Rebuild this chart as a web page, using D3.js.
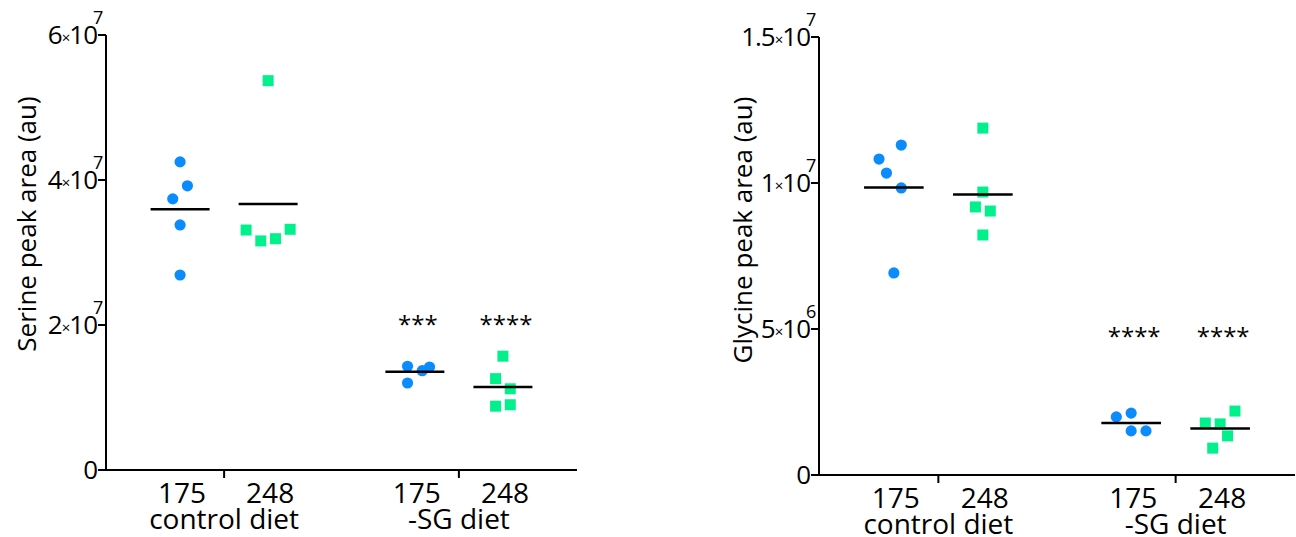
<!DOCTYPE html>
<html>
<head>
<meta charset="utf-8">
<script src="https://cdn.jsdelivr.net/npm/d3@7"></script>
<style>
  body { margin: 0; background: #fff; }
  svg { font-family: "Open Sans", sans-serif; }
</style>
</head>
<body>
<svg id="chart" width="1296" height="537"></svg>
<script>
// groups and strains on the x axis
var groups = ['control diet', '-SG diet'];
var strains = ['175', '248'];

// serine peak area, units of 1e6 (au)
var serineCtrl175 = [42.5, 39.2, 37.4, 33.8, 26.9];
var serineCtrl248 = [53.7, 33.2, 33.1, 31.9, 31.6];
var serineSG175 = [14.3, 14.2, 13.7, 12.0];
var serineSG248 = [15.7, 12.6, 11.2, 9.0, 8.8];
// side-by-side slot of each point (column scatter spread)
var serineSpread = [[0, 1, -1, 0, 0], [0, 3, -3, 1, -1], [-1, 2, 1, -1], [0, -1, 1, 1, -1]];
var serineStars = ['', '', '***', '****'];
var serineTicks = [0, 20, 40, 60];

// glycine peak area, units of 1e6 (au)
var glycineCtrl175 = [11.30, 10.82, 10.34, 9.83, 6.92];
var glycineCtrl248 = [11.88, 9.69, 9.18, 9.04, 8.22];
var glycineSG175 = [2.12, 1.99, 1.51, 1.51];
var glycineSG248 = [2.19, 1.78, 1.75, 1.34, 0.92];
var glycineSpread = [[1, -2, -1, 1, 0], [0, 0, -1, 1, 0], [0, -2, 0, 2], [2, -2, 0, 1, -1]];
var glycineStars = ['', '', '****', '****'];
var glycineTicks = [0, 5, 10, 15];

var blue = '#0a8cff', green = '#00f08c';

var svg = d3.select('#chart');

function sciLabel(g, v) {
  // v in units of 1e6 -> "m×10^e"
  if (v == 0) { g.append('tspan').text('0'); return null; }
  var full = v * 1e6,
      e = Math.floor(Math.log10(full) + 1e-9),
      m = +(full / Math.pow(10, e)).toFixed(2);
  g.append('tspan').text(m);
  g.append('tspan').attr('font-size', 15).attr('dy', -1).text('×');
  g.append('tspan').attr('dy', 1).text('10');
  return e;
}

function drawPanel(opt) {
  var p = svg.append('g');

  var y = d3.scaleLinear()
    .domain([0, opt.yMax])
    .range([opt.bottom, opt.top]);

  var x0 = d3.scaleBand()
    .domain(groups)
    .range([opt.left, opt.right])
    .paddingInner(0.25)
    .paddingOuter(0.128);

  var x1 = d3.scaleBand()
    .domain(strains)
    .range([0, x0.bandwidth()]);

  var slot = x1.bandwidth() / 12;

  var series = [
    { group: groups[0], strain: strains[0], values: opt.data[0] },
    { group: groups[0], strain: strains[1], values: opt.data[1] },
    { group: groups[1], strain: strains[0], values: opt.data[2] },
    { group: groups[1], strain: strains[1], values: opt.data[3] }
  ];
  series.forEach(function(s, i) {
    s.cx = x0(s.group) + x1(s.strain) + x1.bandwidth() / 2;
    s.spread = opt.spread[i];
    s.stars = opt.stars[i];
  });

  // y axis
  p.append('path')
    .attr('d', 'M' + opt.left + ',' + y(opt.yMax) + ' L' + opt.left + ',' + y(0))
    .attr('stroke', '#000').attr('stroke-width', 2).attr('fill', 'none');

  opt.ticks.forEach(function(t) {
    p.append('path')
      .attr('d', 'M' + (opt.left - 8) + ',' + y(t) + ' L' + opt.left + ',' + y(t))
      .attr('stroke', '#000').attr('stroke-width', 2);
    var lab = p.append('text')
      .attr('x', opt.left - 9)
      .attr('y', y(t) + 9)
      .attr('text-anchor', 'end')
      .attr('font-size', 26)
      .attr('letter-spacing', -1);
    var e = sciLabel(lab, t);
    if (e !== null) {
      p.append('text')
        .attr('x', opt.left - 13)
        .attr('y', y(t) - 11)
        .attr('font-size', 18)
        .text(e);
    }
  });

  // x axis
  p.append('path')
    .attr('d', 'M' + opt.left + ',' + y(0) + ' L' + opt.right + ',' + y(0))
    .attr('stroke', '#000').attr('stroke-width', 2).attr('fill', 'none');

  groups.forEach(function(g) {
    var gx = x0(g) + x0.bandwidth() / 2;
    p.append('path')
      .attr('d', 'M' + gx + ',' + y(0) + ' L' + gx + ',' + (y(0) + 8))
      .attr('stroke', '#000').attr('stroke-width', 2);
    p.append('text')
      .attr('x', gx)
      .attr('y', y(0) + 59)
      .attr('text-anchor', 'middle')
      .attr('font-size', 28)
      .text(g);
    strains.forEach(function(s) {
      p.append('text')
        .attr('x', x0(g) + x1(s) + x1.bandwidth() / 2 + 2)
        .attr('y', y(0) + 33)
        .attr('text-anchor', 'middle')
        .attr('font-size', 28)
        .text(s);
    });
  });

  // y title
  p.append('text')
    .attr('transform', 'translate(' + opt.titleX + ',' + opt.titleY + ') rotate(-90)')
    .attr('text-anchor', 'middle')
    .attr('font-size', 26)
    .text(opt.title);

  // points
  series.forEach(function(s, i) {
    var sg = p.append('g');
    if (i % 2 == 0) {
      sg.selectAll('circle').data(s.values).enter().append('circle')
        .attr('cx', function(d, j) { return s.cx + s.spread[j] * slot; })
        .attr('cy', function(d) { return y(d); })
        .attr('r', 5.6)
        .attr('fill', blue);
    } else {
      sg.selectAll('rect').data(s.values).enter().append('rect')
        .attr('x', function(d, j) { return s.cx + s.spread[j] * slot - 5.5; })
        .attr('y', function(d) { return y(d) - 5.5; })
        .attr('width', 11).attr('height', 11)
        .attr('fill', green);
    }
    var m = d3.mean(s.values), hw = x1.bandwidth() * 0.335;
    p.append('path')
      .attr('d', 'M' + (s.cx - hw) + ',' + y(m) + ' L' + (s.cx + hw) + ',' + y(m))
      .attr('stroke', '#000').attr('stroke-width', 2.5);
    if (s.stars) {
      p.append('text')
        .attr('x', s.cx + 3)
        .attr('y', y(opt.starLevel) + 12)
        .attr('text-anchor', 'middle')
        .attr('font-size', 24)
        .text(s.stars);
    }
  });
}

drawPanel({
  left: 106, right: 577, top: 35, bottom: 470, yMax: 60,
  ticks: serineTicks,
  data: [serineCtrl175, serineCtrl248, serineSG175, serineSG248],
  spread: serineSpread, stars: serineStars, starLevel: 20.6,
  title: 'Serine peak area (au)', titleX: 36, titleY: 224
});

drawPanel({
  left: 819, right: 1295, top: 37, bottom: 475, yMax: 15,
  ticks: glycineTicks,
  data: [glycineCtrl175, glycineCtrl248, glycineSG175, glycineSG248],
  spread: glycineSpread, stars: glycineStars, starLevel: 4.85,
  title: 'Glycine peak area (au)', titleX: 752, titleY: 230
});

console.log('chart drawn');
</script>
</body>
</html>
